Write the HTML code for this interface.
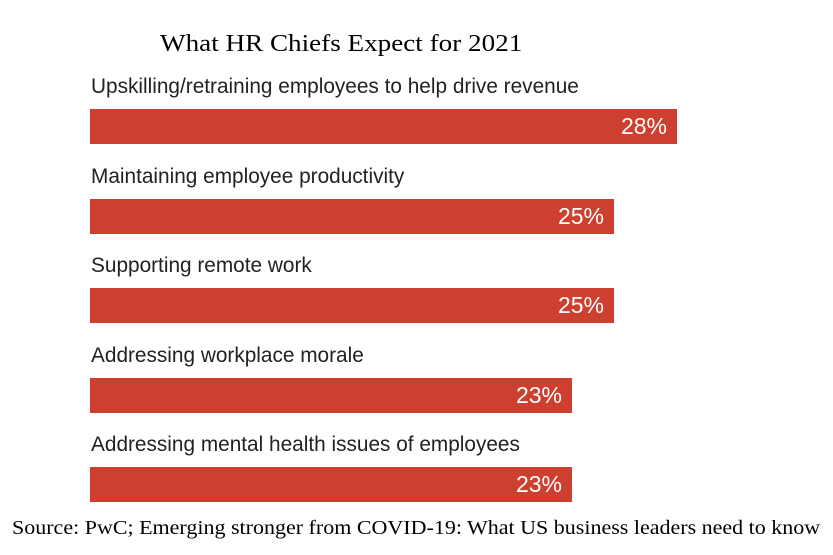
<!DOCTYPE html>
<html><head><style>
body{margin:0;width:833px;height:555px;background:#fff;position:relative;overflow:hidden}
.t{position:absolute;font-family:"Liberation Serif",serif;color:#000;white-space:nowrap;transform-origin:left top}
.l{position:absolute;left:91px;font-family:"Liberation Sans",sans-serif;font-size:20.8px;color:#222;white-space:nowrap}
.b{position:absolute;left:90px;height:35px;background:#cd3f2e}
.b span{position:absolute;right:10px;top:4px;font-family:"Liberation Sans",sans-serif;font-size:23px;color:#fff}
</style></head><body>
<div class="t" style="left:160px;top:31px;font-size:24px;transform:scaleX(1.13)">What HR Chiefs Expect for 2021</div>
<div class="l" style="top:75px">Upskilling/retraining employees to help drive revenue</div>
<div class="b" style="top:109px;width:587px"><span>28%</span></div>
<div class="l" style="top:165px">Maintaining employee productivity</div>
<div class="b" style="top:199px;width:524px"><span>25%</span></div>
<div class="l" style="top:254px">Supporting remote work</div>
<div class="b" style="top:288px;width:524px"><span>25%</span></div>
<div class="l" style="top:344px">Addressing workplace morale</div>
<div class="b" style="top:378px;width:482px"><span>23%</span></div>
<div class="l" style="top:433px">Addressing mental health issues of employees</div>
<div class="b" style="top:467px;width:482px"><span>23%</span></div>
<div class="t" style="left:12px;top:517px;font-size:20px;transform:scaleX(1.1)">Source: PwC; Emerging stronger from COVID-19: What US business leaders need to know</div>
</body></html>
